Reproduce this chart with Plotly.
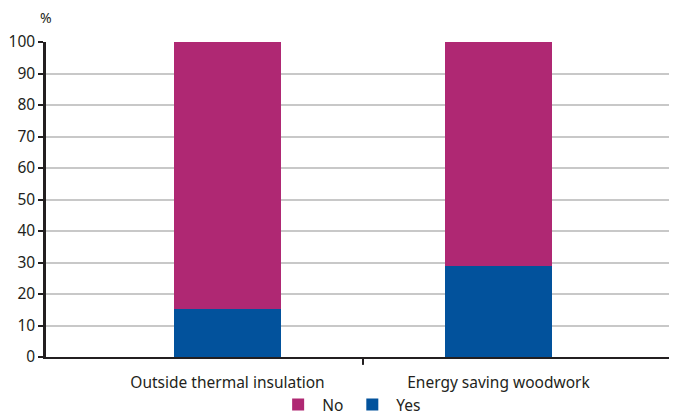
import plotly.graph_objects as go

categories = ["Outside thermal insulation", "Energy saving woodwork"]
yes_values = [15.2, 28.9]
no_values = [84.8, 71.1]
y_ticks = [0, 10, 20, 30, 40, 50, 60, 70, 80, 90, 100]

FONT = "Noto Sans"
TXT = "#231f20"

fig = go.Figure()
fig.add_trace(go.Bar(x=[0, 1], y=yes_values, name="Yes", marker_color="#02529c",
                     marker_line_width=0, width=0.395))
fig.add_trace(go.Bar(x=[0, 1], y=no_values, name="No", marker_color="#af2873",
                     marker_line_width=0, width=0.395))

fig.update_layout(
    width=669, height=409,
    barmode="stack",
    plot_bgcolor="white", paper_bgcolor="white",
    margin=dict(l=38, r=0, t=34, b=60, autoexpand=False),
    font=dict(family=FONT, size=15, color=TXT),
    showlegend=True,
    legend=dict(orientation="h", x=0.482, xanchor="center",
                yref="paper", y=-0.152, yanchor="middle",
                traceorder="reversed", font=dict(size=15.5, color=TXT),
                itemwidth=38, tracegroupgap=0, bgcolor="rgba(0,0,0,0)"),
    xaxis=dict(
        range=[-0.67, 1.659], tickmode="array", tickvals=[0, 1], ticktext=categories,
        ticks="outside", ticklen=10, tickcolor="rgba(0,0,0,0)",
        showgrid=False, zeroline=False, automargin=False,
        showline=True, linecolor="#231f20", linewidth=2,
        tickfont=dict(size=15.5, color=TXT),
    ),
    yaxis=dict(
        range=[0, 100], tickmode="array", tickvals=y_ticks, automargin=False,
        ticks="outside", ticklen=5, tickwidth=2, tickcolor="#231f20",
        showgrid=True, gridcolor="#c8c8c8", gridwidth=1.5,
        zeroline=False, showline=True, linecolor="#231f20", linewidth=2.5,
        tickfont=dict(size=15.5, color=TXT),
    ),
    annotations=[dict(text="%", xref="paper", yref="paper", x=-0.012, y=1.079,
                      xanchor="left", yanchor="middle", showarrow=False,
                      font=dict(size=14, color=TXT))],
    shapes=[dict(type="line", xref="x", yref="paper", x0=0.5, x1=0.5, y0=0, y1=-0.025,
                 line=dict(color="#231f20", width=2))],
)

fig.write_html("out.html")
